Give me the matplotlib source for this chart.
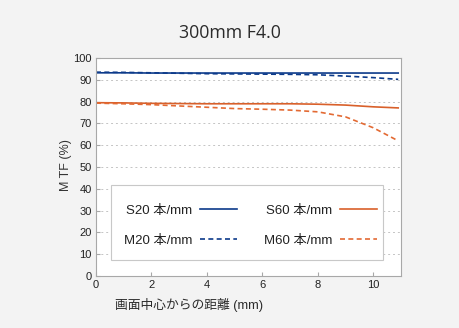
import matplotlib.pyplot as plt
from matplotlib.patches import Rectangle

plt.rcParams['font.family'] = ['Liberation Sans', 'Noto Sans CJK JP', 'DejaVu Sans']

# distance from image centre (mm)
dist = [0, 1, 2, 3, 4, 5, 6, 7, 8, 9, 10, 10.9]

s20 = [93.2, 93.2, 93.1, 93.1, 93.1, 93.1, 93.1, 93.1, 93.1, 93.1, 93.1, 93.1]
m20 = [93.5, 93.4, 93.2, 93.0, 92.8, 92.7, 92.6, 92.5, 92.3, 91.7, 91.0, 90.2]
s60 = [79.5, 79.4, 79.2, 79.1, 79.0, 79.0, 79.0, 79.0, 78.8, 78.4, 77.6, 77.1]
m60 = [79.3, 79.0, 78.6, 78.0, 77.4, 76.8, 76.5, 76.1, 75.3, 73.0, 68.0, 62.0]

navy = '#0c3a8a'
orange = '#d9602a'
orange_dash = '#e36a33'

fig = plt.figure(figsize=(4.6, 3.28), dpi=100, facecolor='#f3f3f3')
ax = fig.add_axes([0.2087, 0.1585, 0.663, 0.6647])
ax.set_facecolor('white')

l1, = ax.plot(dist, s20, color=navy, lw=1.2, label='S20 本/mm')
l2, = ax.plot(dist, m20, color=navy, lw=1.2, ls=(0, (3, 2)), label='M20 本/mm')
l3, = ax.plot(dist, s60, color=orange, lw=1.2, label='S60 本/mm')
l4, = ax.plot(dist, m60, color=orange_dash, lw=1.2, ls=(0, (3, 2)), label='M60 本/mm')

ax.set_xlim(0, 11)
ax.set_ylim(0, 100)
ax.set_xticks(range(0, 11, 2))
ax.set_yticks(range(0, 101, 10))
ax.yaxis.grid(True, color='#c4c4c4', ls=(0, (2, 3)), lw=0.7)
ax.set_axisbelow(True)
for s in ax.spines.values():
    s.set_color('#a8a8a8')
    s.set_linewidth(0.8)
ax.tick_params(direction='in', length=3, color='#a8a8a8', labelsize=8, labelcolor='#222222', pad=3)

# legend box drawn separately so the entries can sit off-centre inside it
ax.add_patch(Rectangle((0.048, 0.073), 0.893, 0.344, transform=ax.transAxes,
                       facecolor='white', edgecolor='#c8c8c8', lw=0.8, zorder=4))
leg = ax.legend(handles=[l1, l2, l3, l4], ncol=2, markerfirst=False, loc='center',
                bbox_to_anchor=(0.5066, 0.232), frameon=False, fontsize=9.5,
                handlelength=2.8, labelspacing=1.35, columnspacing=2.05,
                handletextpad=0.6, borderpad=0)
leg.set_zorder(5)
for t in leg.get_texts():
    t.set_color('#222222')

fig.text(0.5, 0.9, '300mm F4.0', ha='center', va='center', fontsize=12.8,
         family=['Open Sans', 'DejaVu Sans'], color='#2a2a2a')
fig.text(0.143, 0.497, 'M TF (%)', rotation=90, ha='center', va='center', fontsize=9, color='#333333')
fig.text(0.25, 0.07, '画面中心からの距離 (mm)', ha='left', va='center', fontsize=9.2, color='#2a2a2a')

fig.savefig('out.png', dpi=100, facecolor=fig.get_facecolor())
